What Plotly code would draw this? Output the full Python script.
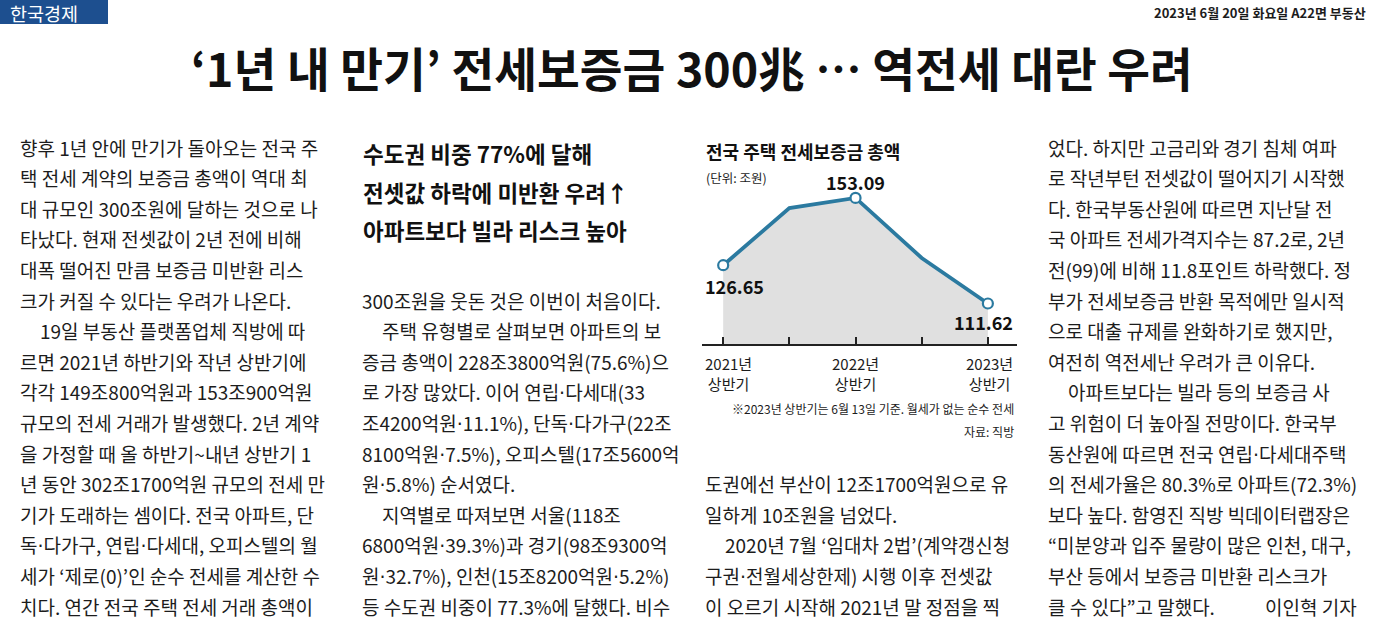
import plotly.graph_objects as go

# chart data (전국 주택 전세보증금 총액, 조원)
periods = ["2021년 상반기", "2021년 하반기", "2022년 상반기", "2022년 하반기", "2023년 상반기"]
deposit_total = [126.65, 149.08, 153.09, 129.5, 111.62]
labeled = [0, 2, 4]

page_title = "‘1년 내 만기’ 전세보증금 300兆 … 역전세 대란 우려"
paper_name = "한국경제"
issue_info = "2023년 6월 20일 화요일 A22면 부동산"
chart_title = "전국 주택 전세보증금 총액"
chart_unit = "(단위: 조원)"
chart_note = "※2023년 상반기는 6월 13일 기준. 월세가 없는 순수 전세"
chart_source = "자료: 직방"
byline = "이인혁 기자"

col1_lines = [
    "향후 1년 안에 만기가 돌아오는 전국 주",
    "택 전세 계약의 보증금 총액이 역대 최",
    "대 규모인 300조원에 달하는 것으로 나",
    "타났다. 현재 전셋값이 2년 전에 비해",
    "대폭 떨어진 만큼 보증금 미반환 리스",
    "크가 커질 수 있다는 우려가 나온다.",
    " 19일 부동산 플랫폼업체 직방에 따",
    "르면 2021년 하반기와 작년 상반기에",
    "각각 149조800억원과 153조900억원",
    "규모의 전세 거래가 발생했다. 2년 계약",
    "을 가정할 때 올 하반기~내년 상반기 1",
    "년 동안 302조1700억원 규모의 전세 만",
    "기가 도래하는 셈이다. 전국 아파트, 단",
    "독·다가구, 연립·다세대, 오피스텔의 월",
    "세가 ‘제로(0)’인 순수 전세를 계산한 수",
    "치다. 연간 전국 주택 전세 거래 총액이",
]
col2_heads = [
    "수도권 비중 77%에 달해",
    "전셋값 하락에 미반환 우려↑",
    "아파트보다 빌라 리스크 높아",
]
col2_lines = [
    "300조원을 웃돈 것은 이번이 처음이다.",
    " 주택 유형별로 살펴보면 아파트의 보",
    "증금 총액이 228조3800억원(75.6%)으",
    "로 가장 많았다. 이어 연립·다세대(33",
    "조4200억원·11.1%), 단독·다가구(22조",
    "8100억원·7.5%), 오피스텔(17조5600억",
    "원·5.8%) 순서였다.",
    " 지역별로 따져보면 서울(118조",
    "6800억원·39.3%)과 경기(98조9300억",
    "원·32.7%), 인천(15조8200억원·5.2%)",
    "등 수도권 비중이 77.3%에 달했다. 비수",
]
col3_lines = [
    "도권에선 부산이 12조1700억원으로 유",
    "일하게 10조원을 넘었다.",
    " 2020년 7월 ‘임대차 2법’(계약갱신청",
    "구권·전월세상한제) 시행 이후 전셋값",
    "이 오르기 시작해 2021년 말 정점을 찍",
]
col4_lines = [
    "었다. 하지만 고금리와 경기 침체 여파",
    "로 작년부턴 전셋값이 떨어지기 시작했",
    "다. 한국부동산원에 따르면 지난달 전",
    "국 아파트 전세가격지수는 87.2로, 2년",
    "전(99)에 비해 11.8포인트 하락했다. 정",
    "부가 전세보증금 반환 목적에만 일시적",
    "으로 대출 규제를 완화하기로 했지만,",
    "여전히 역전세난 우려가 큰 이유다.",
    " 아파트보다는 빌라 등의 보증금 사",
    "고 위험이 더 높아질 전망이다. 한국부",
    "동산원에 따르면 전국 연립·다세대주택",
    "의 전세가율은 80.3%로 아파트(72.3%)",
    "보다 높다. 함영진 직방 빅데이터랩장은",
    "“미분양과 입주 물량이 많은 인천, 대구,",
    "부산 등에서 보증금 미반환 리스크가",
    "클 수 있다”고 말했다.",
]

W, H = 1375, 640
FONT = "Noto Sans CJK KR"
INK = "#1c1c1c"
BLUE = "#2b7aa0"
# the CJK font draws the middle dot full width; borrow a Latin one
NARROW_DOT = '<span style="font-family:DejaVu Sans">·</span>'


def px(x):
    return x / W


def py(y):
    return 1 - y / H


fig = go.Figure()

fig.add_trace(go.Scatter(
    x=periods, y=deposit_total,
    mode="lines",
    line=dict(color=BLUE, width=3.8),
    fill="tozeroy", fillcolor="#e0e0e0",
    hoverinfo="x+y"))

fig.add_trace(go.Scatter(
    x=[periods[i] for i in labeled],
    y=[deposit_total[i] for i in labeled],
    mode="markers",
    marker=dict(size=10, color="white", line=dict(color=BLUE, width=2.2)),
    hoverinfo="x+y"))

annotations = []


def text(x, y, s, size=19, anchor="left", bold=False, color=INK, xshift=0):
    annotations.append(dict(
        x=px(x), y=py(y), xref="paper", yref="paper",
        text=s.replace("·", NARROW_DOT), showarrow=False,
        xanchor=anchor, yanchor="middle", xshift=xshift,
        font=dict(family=FONT, size=size, color=color,
                  weight="bold" if bold else "normal")))


def column(x, y0, lines, step=30.6):
    for k, line in enumerate(lines):
        indent = 20 if line.startswith(" ") else 0
        text(x, y0 + k * step, line.strip(), xshift=indent)


# header
text(8, 13, paper_name, size=18.5, color="white")
text(1368, 13, issue_info, size=13, anchor="right", bold=True)
text(692, 66, page_title, size=46.5, anchor="center", bold=True, color="#111")

# body columns
column(18, 147, col1_lines)
for k, h in enumerate(col2_heads):
    text(361, 153 + k * 38.5, h, size=22.5, bold=True, color="#111")
column(360, 300, col2_lines)
column(703, 606 - 30.6 * (len(col3_lines) - 1), col3_lines)
column(1046, 147, col4_lines)
text(1359, 606, byline, anchor="right")

# chart texts
text(704, 151, chart_title, size=18, bold=True, color="#111")
text(704, 178, chart_unit, size=12.5)
text(1016, 408, chart_note, size=12, anchor="right")
text(1016, 431, chart_source, size=12, anchor="right")

# data labels and period labels
label_pos = {0: ("left", -20, -21), 2: ("center", 0, 16), 4: ("right", 27, -19)}
for i in labeled:
    anchor, dx, dy = label_pos[i]
    annotations.append(dict(
        x=periods[i], y=deposit_total[i], xref="x", yref="y",
        text=f"{deposit_total[i]:.2f}", showarrow=False,
        xanchor=anchor, yanchor="middle", xshift=dx, yshift=dy,
        font=dict(family=FONT, size=18, color="#111", weight="bold")))
    annotations.append(dict(
        x=periods[i], y=py(373), xref="x", yref="paper",
        text=periods[i].replace(" ", "<br>"), showarrow=False,
        xanchor=anchor, yanchor="middle", xshift=dx,
        font=dict(family=FONT, size=15, color=INK)))

fig.update_layout(
    width=W, height=H,
    margin=dict(l=0, r=0, t=0, b=0),
    paper_bgcolor="white", plot_bgcolor="rgba(0,0,0,0)",
    showlegend=False,
    annotations=annotations,
    shapes=[dict(type="rect", xref="paper", yref="paper",
                 x0=0, x1=px(108), y0=py(24), y1=1,
                 fillcolor="#1d4f8f", line_width=0, layer="below")],
    xaxis=dict(domain=[px(702), px(1017)], range=[-0.32, 4.44],
               showline=True, linecolor="#222", linewidth=2,
               ticks="inside", ticklen=7, tickwidth=1.5, tickcolor="#222",
               showticklabels=False, showgrid=False, zeroline=False),
    yaxis=dict(domain=[py(344), py(190)], range=[95.7, 156.2],
               visible=False, showgrid=False, zeroline=False),
)

fig.write_html("out.html", config={"displayModeBar": False},
               post_script="document.body.style.margin='0';document.body.style.overflow='hidden';")
